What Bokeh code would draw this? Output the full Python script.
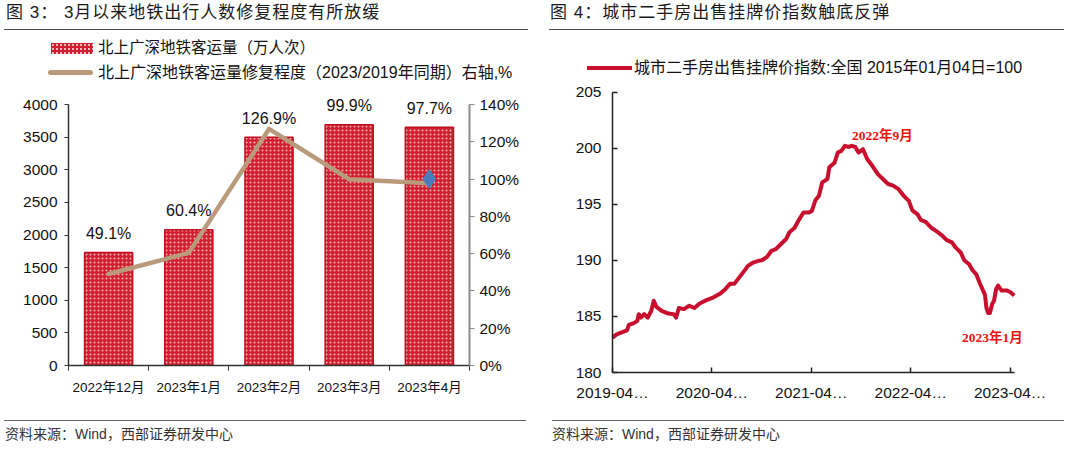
from bokeh.plotting import figure
from bokeh.models import (Range1d, LinearAxis, FixedTicker, Div, PrintfTickFormatter)
from bokeh.layouts import row, column
from bokeh.embed import file_html
from bokeh.resources import INLINE
from bokeh.core.properties import value

# ---------------- data: left chart ----------------
MONTHS = ["2022年12月", "2023年1月", "2023年2月", "2023年3月", "2023年4月"]
RIDERSHIP = [1730, 2080, 3500, 3690, 3650]          # 北上广深地铁客运量（万人次）
RECOVERY = [49.1, 60.4, 126.9, 99.9, 97.7]          # 修复程度 %, right axis
RECOVERY_LABELS = ["49.1%", "60.4%", "126.9%", "99.9%", "97.7%"]
MARKER_VALUE = [100.0]                               # blue diamond at 2023年4月
LEFT_TICKS = [0, 500, 1000, 1500, 2000, 2500, 3000, 3500, 4000]
PCT_TICKS = [0, 20, 40, 60, 80, 100, 120, 140]
LEFT_LEGEND = ["北上广深地铁客运量（万人次）", "北上广深地铁客运量修复程度（2023/2019年同期）右轴,%"]

# ---------------- data: right chart ----------------
START_DATE = "2019-04-07"   # day 0 of DAYS
DAYS = [0, 15, 41, 53, 60, 78, 91, 96, 104, 116, 129, 142, 151, 161, 180, 205, 224, 233,
        243, 262, 281, 300, 319, 344, 370, 395, 414, 430, 446, 465, 484, 496, 515, 534,
        547, 566, 582, 598, 617, 636, 648, 667, 680, 699, 718, 730, 743, 756, 768, 787,
        794, 813, 825, 838, 851, 863, 876, 889, 901, 917, 933, 952, 971, 990, 1009, 1028,
        1047, 1066, 1085, 1098, 1117, 1129, 1148, 1167, 1186, 1205, 1224, 1243, 1256,
        1275, 1288, 1306, 1319, 1332, 1345, 1357, 1364, 1369, 1375, 1382, 1390, 1397,
        1405, 1412, 1425, 1445, 1458, 1471]
INDEX = [183.1, 183.4, 183.65, 183.75, 184.25, 184.4, 184.6, 185.2, 184.9, 185.2, 184.9,
         185.5, 186.4, 185.85, 185.5, 185.25, 185.2, 184.9, 185.75, 185.65, 185.95, 185.75,
         186.15, 186.45, 186.7, 187.05, 187.45, 187.9, 187.9, 188.5, 189.1, 189.5, 189.8,
         189.95, 190.0, 190.3, 190.85, 191.0, 191.45, 191.9, 192.5, 192.9, 193.5, 194.25,
         194.25, 194.4, 195.35, 195.75, 196.95, 197.25, 198.3, 198.7, 199.6, 199.75, 200.2,
         200.1, 200.2, 200.1, 199.6, 199.9, 199.0, 198.4, 197.7, 197.25, 196.8, 196.65,
         196.35, 195.75, 195.3, 194.45, 194.1, 193.6, 193.4, 192.9, 192.6, 192.25, 191.8,
         191.6, 191.15, 190.7, 190.0, 189.65, 189.1, 188.75, 187.95, 187.3, 186.9, 185.8,
         185.3, 185.3, 186.1, 186.4, 187.45, 187.75, 187.3, 187.3, 187.15, 186.85]
INDEX_TICKS = [180, 185, 190, 195, 200, 205]
DATE_TICK_DAYS = [0, 364, 728, 1092, 1456]
DATE_TICK_LABELS = ["2019-04…", "2020-04…", "2021-04…", "2022-04…", "2023-04…"]
ANNOT_TEXT = ["2022年9月", "2023年1月"]
ANNOT_DAYS = [988, 1391]
ANNOT_VALUES = [201.1, 183.1]
RIGHT_LEGEND = "城市二手房出售挂牌价指数:全国 2015年01月04日=100"
SOURCE = "资料来源：Wind，西部证券研发中心"

SANS = "'Liberation Sans', 'Noto Sans CJK SC'"
SERIF = "'Liberation Serif', 'Noto Sans CJK SC'"

BAR_RED = "#D01F2E"
DOT_PINK = "#F1B9C0"
TAN = "#B99B7C"
IDX_RED = "#C8102E"

# ================= left chart =================
L_FRAME_H = 281            # px of plot frame
L_AXIS_H = 261             # px taken by 0..4000
L_TOP = LEFT_TICKS[-1] * L_FRAME_H / L_AXIS_H
P_TOP = PCT_TICKS[-1] * L_FRAME_H / L_AXIS_H

xs = [i + 0.5 for i in range(len(MONTHS))]

p1 = figure(width=532, height=332, x_range=Range1d(0, len(MONTHS)), y_range=Range1d(0, L_TOP),
            output_backend="svg", toolbar_location=None,
            min_border_left=68, min_border_right=63, min_border_top=0, min_border_bottom=51)
p1.outline_line_color = None
p1.grid.visible = False
p1.background_fill_color = "white"
p1.border_fill_color = "white"

bars = p1.vbar(x=xs, top=RIDERSHIP, width=0.6, fill_color=BAR_RED,
               hatch_pattern="dot", hatch_color=DOT_PINK, hatch_scale=4.0, hatch_weight=1.6,
               line_color="#C0101F", line_width=1.5)

p1.extra_y_ranges = {"pct": Range1d(0, P_TOP)}
ln = p1.line(xs, RECOVERY, y_range_name="pct", line_color=TAN, line_width=4.5,
             line_join="round", line_cap="round")
p1.scatter([xs[-1]], MARKER_VALUE, y_range_name="pct", marker="diamond", size=19,
           fill_color="#4A7DBA", line_color="#4A7DBA")

p1.text(x=xs, y=RIDERSHIP, text=RECOVERY_LABELS, text_align="center", text_baseline="middle",
        y_offset=-19, text_font_size="16px", text_font=value("Liberation Sans"), text_color="#111111")

xa = p1.xaxis[0]
xa.ticker = FixedTicker(ticks=xs, minor_ticks=list(range(len(MONTHS) + 1)))
xa.major_label_overrides = {x: m for x, m in zip(xs, MONTHS)}
xa.major_tick_out = 0
xa.major_tick_in = 0
xa.minor_tick_out = 5
xa.minor_tick_in = 0
xa.minor_tick_line_color = "#333333"
xa.axis_line_color = "#333333"
xa.axis_line_width = 1.5
xa.major_label_standoff = 9
xa.major_label_text_font_size = "13.5px"
xa.major_label_text_font = SANS
xa.major_label_text_color = "#111111"

ya = p1.yaxis[0]
ya.ticker = FixedTicker(ticks=LEFT_TICKS)
ya.bounds = (LEFT_TICKS[0], LEFT_TICKS[-1])
ya.major_tick_out = 4
ya.major_tick_in = 0
ya.minor_tick_line_color = None
ya.axis_line_color = "#333333"
ya.axis_line_width = 1.5
ya.major_tick_line_color = "#333333"
ya.major_label_standoff = 7
ya.major_label_text_font_size = "15.5px"
ya.major_label_text_font = "Liberation Sans"
ya.major_label_text_color = "#111111"

ra = LinearAxis(y_range_name="pct", ticker=FixedTicker(ticks=PCT_TICKS),
                formatter=PrintfTickFormatter(format="%d%%"),
                bounds=(PCT_TICKS[0], PCT_TICKS[-1]))
ra.major_tick_out = 5
ra.major_tick_in = 0
ra.minor_tick_line_color = None
ra.axis_line_color = "#8C8C8C"
ra.axis_line_width = 2
ra.major_tick_line_color = "#8C8C8C"
ra.major_label_standoff = 5
ra.major_label_text_font_size = "15.5px"
ra.major_label_text_font = "Liberation Sans"
ra.major_label_text_color = "#111111"
p1.add_layout(ra, "right")

# ================= right chart =================
R_FRAME_H = 288
R_AXIS_H = 280.5           # px taken by 180..205
R_TOP = INDEX_TICKS[0] + (INDEX_TICKS[-1] - INDEX_TICKS[0]) * R_FRAME_H / R_AXIS_H
R_FRAME_W = 418
R_AXIS_W = 402             # px taken by the 0..1472 day span
X_END = 1472 * R_FRAME_W / R_AXIS_W

p2 = figure(width=532, height=332, x_range=Range1d(0, X_END), y_range=Range1d(180, R_TOP),
            output_backend="svg", toolbar_location=None,
            min_border_left=80, min_border_right=34, min_border_top=0, min_border_bottom=44)
p2.outline_line_color = None
p2.grid.visible = False
p2.background_fill_color = "white"
p2.border_fill_color = "white"

idx_line = p2.line(DAYS, INDEX, line_color=IDX_RED, line_width=4, line_join="round")

p2.text(x=ANNOT_DAYS, y=ANNOT_VALUES, text=ANNOT_TEXT, text_align="center",
        text_baseline="middle", text_font_size="13.5px", text_font=value(SERIF),
        text_color="#EE1111", text_font_style="bold")

xb = p2.xaxis[0]
xb.ticker = FixedTicker(ticks=DATE_TICK_DAYS)
xb.bounds = (0, 1472)
xb.major_label_overrides = {d: t for d, t in zip(DATE_TICK_DAYS, DATE_TICK_LABELS)}
xb.major_tick_in = 5
xb.major_tick_out = 0
xb.minor_tick_line_color = None
xb.axis_line_color = "#222222"
xb.axis_line_width = 1.5
xb.major_tick_line_color = "#222222"
xb.major_tick_line_width = 1.5
xb.major_label_standoff = 11
xb.major_label_text_font_size = "15.5px"
xb.major_label_text_font = "Liberation Sans"
xb.major_label_text_color = "#111111"

yb = p2.yaxis[0]
yb.ticker = FixedTicker(ticks=INDEX_TICKS)
yb.bounds = (INDEX_TICKS[0], INDEX_TICKS[-1])
yb.major_tick_in = 5
yb.major_tick_out = 0
yb.minor_tick_line_color = None
yb.axis_line_color = "#222222"
yb.axis_line_width = 1.5
yb.major_tick_line_color = "#222222"
yb.major_tick_line_width = 1.5
yb.major_label_standoff = 11
yb.major_label_text_font_size = "15.5px"
yb.major_label_text_font = "Liberation Sans"
yb.major_label_text_color = "#111111"

# ================= titles / legends / sources =================
FONT_CSS = "font-family:'Liberation Sans','Noto Sans CJK SC';"
TITLE_STYLE = (FONT_CSS + "font-size:17px;color:#1a1a1a;line-height:20px;padding-top:3px;"
               "height:25.5px;box-sizing:content-box;border-bottom:1.5px solid #4d4d4d;"
               "white-space:nowrap;overflow:visible;letter-spacing:1px;")
SRC_STYLE = (FONT_CSS + "font-size:14px;color:#333;margin-top:4px;border-top:1.5px solid #666;"
             "padding-top:5px;line-height:16px;white-space:nowrap;")
LEG_TEXT = FONT_CSS + "position:absolute;color:#111;white-space:nowrap;line-height:18px;"

t1 = Div(text=(f'<div style="{TITLE_STYLE}margin-left:4px;padding-left:2px;width:522px;">'
               '图 3：&nbsp;3月以来地铁出行人数修复程度有所放缓</div>'),
         width=532, height=32, margin=0)
t2 = Div(text=(f'<div style="{TITLE_STYLE}margin-left:17px;padding-left:1px;width:514px;">'
               '图 4：城市二手房出售挂牌价指数触底反弹</div>'),
         width=532, height=32, margin=0)

hatch_css = (f"background-color:{BAR_RED};"
             f"background-image:radial-gradient({DOT_PINK} 0.9px, transparent 1.3px);"
             "background-size:4px 4px;")
lg1 = Div(text=(
    '<div style="position:relative;width:532px;height:52px;">'
    f'<div style="position:absolute;left:51px;top:11px;width:42px;height:11px;{hatch_css}"></div>'
    f'<div style="{LEG_TEXT}left:98px;top:7px;font-size:15.5px;">{LEFT_LEGEND[0]}</div>'
    f'<div style="position:absolute;left:48px;top:38px;width:45px;height:5px;border-radius:3px;background:{TAN};"></div>'
    f'<div style="{LEG_TEXT}left:98px;top:31.5px;font-size:16px;">{LEFT_LEGEND[1]}</div>'
    '</div>'), width=532, height=52, margin=0)
lg2 = Div(text=(
    '<div style="position:relative;width:532px;height:52px;">'
    f'<div style="position:absolute;left:55px;top:34px;width:45px;height:4px;background:{IDX_RED};"></div>'
    f'<div style="{LEG_TEXT}left:102px;top:27px;font-size:16px;">{RIGHT_LEGEND}</div>'
    '</div>'), width=532, height=52, margin=0)

s1 = Div(text=f'<div style="{SRC_STYLE}margin-left:4px;padding-left:1px;width:522px;">{SOURCE}</div>',
         width=532, height=27, margin=0)
s2 = Div(text=f'<div style="{SRC_STYLE}margin-left:20px;width:512px;">{SOURCE}</div>',
         width=532, height=27, margin=0)

layout = row(column(t1, lg1, p1, s1, spacing=0), column(t2, lg2, p2, s2, spacing=0), spacing=0)

open("out.html", "w").write(file_html(layout, INLINE))
